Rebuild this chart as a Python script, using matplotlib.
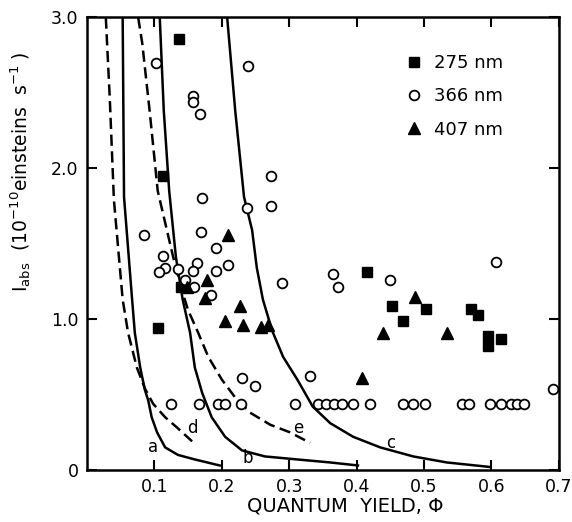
import matplotlib
matplotlib.use("Agg")
import matplotlib.pyplot as plt

plt.rcParams['font.family'] = ['DejaVu Sans']
plt.rcParams['mathtext.fontset'] = 'dejavusans'

# curves (quantum yield, I_abs)
a_x = [0.053, 0.055, 0.067, 0.071, 0.079, 0.086, 0.091, 0.096, 0.104, 0.116, 0.135, 0.160, 0.197]
a_y = [3.0, 1.81, 1.13, 0.91, 0.68, 0.53, 0.46, 0.35, 0.25, 0.15, 0.10, 0.07, 0.03]
b_x = [0.108, 0.114, 0.122, 0.132, 0.142, 0.153, 0.160, 0.171, 0.185, 0.205, 0.230, 0.264,
       0.312, 0.361, 0.402]
b_y = [3.0, 2.38, 1.85, 1.41, 1.13, 0.91, 0.68, 0.51, 0.35, 0.22, 0.13, 0.09,
       0.07, 0.05, 0.03]
c_x = [0.208, 0.220, 0.233, 0.245, 0.252, 0.261, 0.269, 0.276, 0.291, 0.312, 0.335, 0.361,
       0.395, 0.435, 0.484, 0.534, 0.598]
c_y = [3.0, 2.38, 1.81, 1.59, 1.34, 1.13, 1.01, 0.91, 0.75, 0.60, 0.42, 0.31,
       0.22, 0.15, 0.09, 0.05, 0.02]
d_x = [0.028, 0.034, 0.040, 0.053, 0.061, 0.074, 0.086, 0.098, 0.116, 0.134, 0.156]
d_y = [3.0, 2.45, 1.79, 1.13, 0.91, 0.68, 0.54, 0.44, 0.35, 0.28, 0.19]
e_x = [0.076, 0.082, 0.093, 0.105, 0.128, 0.141, 0.150, 0.165, 0.180, 0.200, 0.220, 0.242,
       0.272, 0.301, 0.331]
e_y = [3.0, 2.83, 2.38, 1.85, 1.41, 1.19, 1.06, 0.91, 0.75, 0.60, 0.48, 0.38,
       0.30, 0.25, 0.18]

# 275 nm
sq_x = [0.137, 0.113, 0.105, 0.140, 0.415, 0.453, 0.469, 0.503, 0.570, 0.580, 0.595, 0.595, 0.614]
sq_y = [2.86, 1.95, 0.94, 1.21, 1.31, 1.09, 0.99, 1.07, 1.07, 1.03, 0.89, 0.82, 0.87]

# 366 nm
ci_x = [0.102, 0.239, 0.157, 0.157, 0.168, 0.171, 0.273, 0.237, 0.273, 0.085,
        0.169, 0.191, 0.113, 0.209, 0.163, 0.157, 0.191, 0.116, 0.107, 0.135,
        0.145, 0.159, 0.184, 0.289, 0.365, 0.372, 0.450, 0.607, 0.230, 0.249,
        0.331, 0.691,
        0.125, 0.166, 0.195, 0.205, 0.228, 0.309, 0.342, 0.355, 0.367, 0.379,
        0.394, 0.420, 0.469, 0.484, 0.501, 0.557, 0.566, 0.598, 0.614, 0.629,
        0.638, 0.648]
ci_y = [2.70, 2.68, 2.48, 2.44, 2.36, 1.80, 1.95, 1.74, 1.75, 1.56,
        1.58, 1.47, 1.42, 1.36, 1.37, 1.32, 1.32, 1.34, 1.31, 1.33,
        1.26, 1.21, 1.16, 1.24, 1.30, 1.21, 1.26, 1.38, 0.61, 0.56,
        0.62, 0.54,
        0.44, 0.44, 0.44, 0.44, 0.44, 0.44, 0.44, 0.44, 0.44, 0.44,
        0.44, 0.44, 0.44, 0.44, 0.44, 0.44, 0.44, 0.44, 0.44, 0.44,
        0.44, 0.44]

# 407 nm
tr_x = [0.148, 0.178, 0.175, 0.209, 0.205, 0.227, 0.231, 0.258, 0.268, 0.408, 0.439, 0.487, 0.534]
tr_y = [1.21, 1.26, 1.14, 1.56, 0.99, 1.09, 0.96, 0.95, 0.96, 0.61, 0.91, 1.15, 0.91]

curve_labels = ['a', 'b', 'c', 'd', 'e']
label_x = [0.098, 0.239, 0.450, 0.156, 0.313]
label_y = [0.15, 0.08, 0.18, 0.28, 0.28]

fig = plt.figure(figsize=(5.72, 5.22), dpi=100)
ax = fig.add_axes([0.152, 0.0996, 0.825, 0.867])

dash = (0, (4.5, 2.2))
for xs, ys in [(a_x, a_y), (b_x, b_y), (c_x, c_y)]:
    ax.plot(xs, ys, color='black', lw=1.8, solid_joinstyle='round')
for xs, ys in [(d_x, d_y), (e_x, e_y)]:
    ax.plot(xs, ys, color='black', lw=1.8, linestyle=dash)

ax.plot(sq_x, sq_y, 's', color='black', ms=7, label='275 nm')
ax.plot(ci_x, ci_y, 'o', mfc='white', mec='black', mew=1.3, ms=7, label='366 nm')
ax.plot(tr_x, tr_y, '^', color='black', ms=8, label='407 nm')

for t, x, y in zip(curve_labels, label_x, label_y):
    ax.text(x, y, t, fontsize=12, ha='center', va='center')

ax.set_xlim(0, 0.7)
ax.set_ylim(0, 3.0)
ax.set_xticks([0.1, 0.2, 0.3, 0.4, 0.5, 0.6, 0.7])
ax.set_xticklabels(['0.1', '0.2', '0.3', '0.4', '0.5', '0.6', '0.7'])
ax.set_yticks([0, 1, 2, 3])
ax.set_yticklabels(['0', '1.0', '2.0', '3.0'])
ax.tick_params(direction='in', length=7, width=1.5, labelsize=12.5, pad=6,
               top=True, right=True)
for s in ax.spines.values():
    s.set_linewidth(1.8)

ax.set_xlabel('QUANTUM  YIELD, \u03a6', fontsize=14)
ax.xaxis.set_label_coords(0.547, -0.058)
ax.set_ylabel(r'I$_{\rm abs}$  (10$^{-10}$einsteins  s$^{-1}$ )', fontsize=13.5)
ax.yaxis.set_label_coords(-0.115, 0.66)

ax.legend(loc='upper left', bbox_to_anchor=(0.64, 0.955), frameon=False,
          handlelength=1.0, handletextpad=0.6, labelspacing=0.85, fontsize=13)

fig.savefig('out.png', dpi=100)
